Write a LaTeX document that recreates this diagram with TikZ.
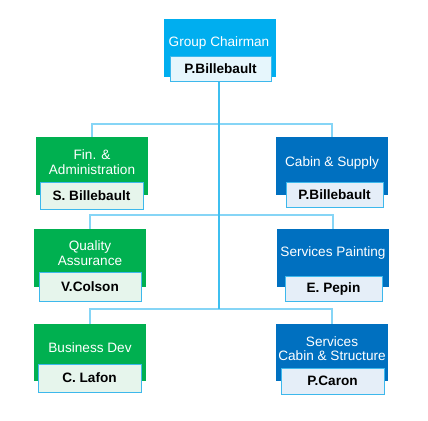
\documentclass[tikz,border=0pt]{standalone}
\usepackage{fontspec}
\setmainfont{Liberation Sans}
\definecolor{topc}{HTML}{00AEEF}
\definecolor{grn}{HTML}{00B050}
\definecolor{blu}{HTML}{0070C0}
\definecolor{namebd}{HTML}{3DB8EC}
\definecolor{trunkc}{HTML}{3DBFF0}
\definecolor{branchc}{HTML}{86D5F6}
\definecolor{gfill}{HTML}{E6F5EC}
\definecolor{bfill}{HTML}{E5EEF8}
\definecolor{tfill}{HTML}{E6F6FC}
\tikzset{
  mainbox/.style={rectangle,inner sep=0pt,minimum width=112pt,minimum height=58pt},
  namebox/.style={rectangle,draw=namebd,line width=1pt,inner sep=0pt,
    font=\fontsize{13.6}{14}\selectfont\bfseries,text=black},
  titletext/.style={align=center,text=white,inner sep=0pt,font=\fontsize{13.6}{14.5}\selectfont},
  trunk/.style={draw=trunkc,line width=1.6pt},
  branch/.style={draw=branchc,line width=1.6pt},
}
\begin{document}
\begin{tikzpicture}[x=1pt,y=-1pt]
\useasboundingbox (0,0) rectangle (428,420);
% main boxes
\node[mainbox,fill=topc] (chair) at (220,48) {};
\node[mainbox,fill=grn] (fin) at (92,166) {};
\node[mainbox,fill=blu] (cab) at (332,166) {};
\node[mainbox,fill=grn] (qa) at (90,258) {};
\node[mainbox,fill=blu] (pai) at (333,258) {};
\node[mainbox,fill=grn,minimum height=57pt] (biz) at (90,352.5) {};
\node[mainbox,fill=blu,minimum height=57pt] (scs) at (332,352.5) {};
% titles
\node[titletext] (chairt) at (219,43) {Group Chairman};
\node[titletext] (fint) at (92,162) {Fin. \&\\Administration};
\node[titletext] (cabt) at (332,163) {Cabin \& Supply};
\node[titletext] (qat) at (90,253) {Quality\\Assurance};
\node[titletext] (pait) at (333,253) {Services Painting};
\node[titletext] (bizt) at (90,348) {Business Dev};
\node[titletext] (scst) at (332,348.5) {Services\\Cabin \& Structure};
% name boxes
\node[namebox,fill=tfill,minimum width=101pt,minimum height=24pt] (chairn) at (220.5,69) {P.Billebault};
\node[namebox,fill=gfill,minimum width=103pt,minimum height=27pt] (finn) at (91.5,195.5) {S. Billebault};
\node[namebox,fill=bfill,minimum width=97pt,minimum height=25pt] (cabn) at (334.5,194.5) {P.Billebault};
\node[namebox,fill=gfill,minimum width=102pt,minimum height=29pt] (qan) at (90,286.5) {V.Colson};
\node[namebox,fill=bfill,minimum width=97pt,minimum height=25pt] (pain) at (333.5,288.5) {E. Pepin};
\node[namebox,fill=gfill,minimum width=103pt,minimum height=28pt] (bizn) at (89.5,378) {C. Lafon};
\node[namebox,fill=bfill,minimum width=103pt,minimum height=26pt] (scsn) at (332.5,381) {P.Caron};
% connectors
\coordinate (j1) at (219,124);
\coordinate (j2) at (219,215);
\coordinate (j3) at (219,309);
\draw[branch] (fin.north) |- (j1) -| (cab.north);
\draw[branch] (qa.north) |- (j2) -| (pai.north);
\draw[branch] (biz.north) |- (j3) -| (scs.north);
\draw[trunk] (chairn.south -| j1) -- (j3);
\end{tikzpicture}
\end{document}
